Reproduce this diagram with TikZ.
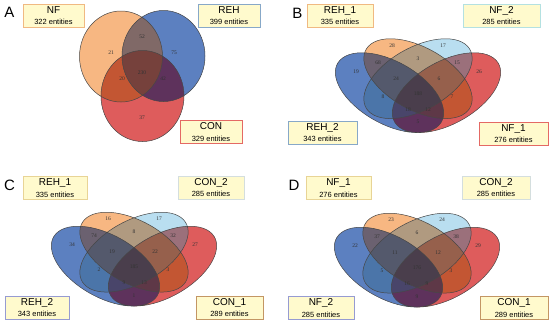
\documentclass[tikz,border=0pt]{standalone}
\usepackage{fontspec}
\setmainfont{Liberation Sans}
\newfontfamily\numfont{Liberation Serif}
\usepackage{tikz}
\usetikzlibrary{positioning}
\definecolor{vorange}{RGB}{242,142,59}
\definecolor{vblue}{RGB}{0,56,156}
\definecolor{vcyan}{RGB}{145,203,231}
\definecolor{vred}{RGB}{203,0,0}
\definecolor{boxfill}{RGB}{255,250,205}
\definecolor{edgeorange}{RGB}{240,185,130}
\definecolor{edgetan}{RGB}{232,212,150}
\definecolor{edgecyan}{RGB}{180,225,225}
\definecolor{edgegrey}{RGB}{212,222,222}
\definecolor{edgeblue}{RGB}{135,168,200}
\definecolor{edgepurple}{RGB}{150,155,210}
\definecolor{edgered}{RGB}{228,105,100}
\definecolor{edgebrown}{RGB}{195,150,100}
\tikzset{
  setfill/.style  = {fill opacity=0.4},
  setline/.style  = {draw=black!72, line width=0.5pt},
  darken/.style   = {fill=black, fill opacity=0.14},
  setbox/.style   = {fill=boxfill, line width=0.9pt, minimum height=23pt, inner sep=0pt, align=center},
  panelid/.style  = {font=\fontsize{15}{15}\selectfont, inner sep=0pt},
  num/.style      = {font=\numfont\fontsize{5.5}{5.5}\selectfont, text=black!80, inner sep=0pt},
}
\newcommand{\setname}[2]{{\fontsize{10}{10}\selectfont #1}\\[-0.5pt]{\fontsize{7.5}{8}\selectfont #2}}
% the four ellipses, in panel units
\newcommand{\vennOL}{{[rotate around={-45:(-0.15,0.006)}] (-0.15,0.006) ellipse (0.35 and 0.2)}}
\newcommand{\vennIL}{{[rotate around={-45:(0,0.106)}] (0,0.106) ellipse (0.35 and 0.2)}}
\newcommand{\vennIR}{{[rotate around={45:(0,0.106)}] (0,0.106) ellipse (0.35 and 0.2)}}
\newcommand{\vennOR}{{[rotate around={45:(0.15,0.006)}] (0.15,0.006) ellipse (0.35 and 0.2)}}
% circles of panel A
\newcommand{\circNF}{(121,56.5) ellipse (41.5 and 45.5)}
\newcommand{\circREH}{(163.5,56) ellipse (41.5 and 45.5)}
\newcommand{\circCON}{(142.5,96) ellipse (41.5 and 45.5)}
% four ellipses round a panel centre (#1,#2)
\newcommand{\fourell}[2]{%
  \begin{scope}[shift={(#1,#2)}, x=1pt, y=1pt, xscale=190, yscale=140]
    % two passes, forth and back
    \fill[setfill, vblue] \vennOL;
    \fill[setfill, vorange] \vennIL;
    \fill[setfill, vcyan] \vennIR;
    \fill[setfill, vred] \vennOR;
    \fill[setfill, vred] \vennOR;
    \fill[setfill, vcyan] \vennIR;
    \fill[setfill, vorange] \vennIL;
    \fill[setfill, vblue] \vennOL;
    % overlaps go darker
    \begin{scope} \clip \vennIL; \fill[darken] \vennOL; \end{scope}
    \begin{scope} \clip \vennIR; \fill[darken] \vennOL \vennIL; \end{scope}
    \begin{scope} \clip \vennOR; \fill[darken] \vennOL \vennIL \vennIR; \end{scope}
    \draw[setline] \vennOR \vennOL \vennIL \vennIR;
  \end{scope}}

\begin{document}
\begin{tikzpicture}[x=1pt,y=-1pt]
  \useasboundingbox (0,0) rectangle (550,325);

  % panel A
  \node[panelid] (idA) at (9.5,12.5) {A};
  \fill[setfill, vorange] \circNF;
  \fill[setfill, vblue] \circREH;
  \fill[setfill, vred] \circCON;
  \fill[setfill, vred] \circCON;
  \fill[setfill, vblue] \circREH;
  \fill[setfill, vorange] \circNF;
  \begin{scope} \clip \circREH; \fill[darken] \circNF; \end{scope}
  \begin{scope} \clip \circCON; \fill[darken] \circNF \circREH; \end{scope}
  \draw[setline] \circNF \circREH \circCON;
  \foreach \x/\y/\n [count=\i] in {111/53/21, 142/37/52, 174/53/75, 142/73/230,
      122/79/20, 163/79/42, 142/118/37} {
    \node[num] (A\i) at (\x,\y) {\n};
  }
  \node[setbox, draw=edgeorange, minimum width=61pt] (nfA) at (53.5,15.5) {\setname{NF}{322 entities}};
  \node[setbox, draw=edgeblue, minimum width=62pt] (rehA) at (229,15.5) {\setname{REH}{399 entities}};
  \node[setbox, draw=edgered, minimum width=62pt] (conA) at (211,132) {\setname{CON}{329 entities}};

  % panel B
  \node[panelid] (idB) at (297.5,13) {B};
  \fourell{418}{93.5}
  \begin{scope}[shift={(418,93.5)}]
    \foreach \x/\y/\n [count=\i] in {-62/-22/19, -26/-48/28, 25/-48/17, 61/-22/26,
        -40/-31/68, 0/-35/3, 39/-31/15, -22/-15/24, 21/-15/6, 0/0/188,
        -35/3/8, 34/3/7, -10/16/18, 10/16/12, 0/28.5/5} {
      \node[num] (B\i) at (\x,\y) {\n};
    }
  \end{scope}
  \node[setbox, draw=edgeorange, minimum width=66pt] (reh1B) at (340,15.5) {\setname{REH\_1}{335 entities}};
  \node[setbox, draw=edgecyan, minimum width=77pt] (nf2B) at (501.5,15.5) {\setname{NF\_2}{285 entities}};
  \node[setbox, draw=edgeblue, minimum width=69pt] (reh2B) at (322.5,132.5) {\setname{REH\_2}{343 entities}};
  \node[setbox, draw=edgered, minimum width=69pt] (nf1B) at (513.5,133.5) {\setname{NF\_1}{276 entities}};

  % panel C
  \node[panelid] (idC) at (9.5,185.5) {C};
  \fourell{134}{267}
  \begin{scope}[shift={(134,267)}]
    \foreach \x/\y/\n [count=\i] in {-62/-22/34, -26/-48/16, 25/-48/17, 61/-22/27,
        -40/-31/74, 0/-35/8, 39/-31/32, -22/-15/19, 21/-15/22, 0/0/185,
        -35/3/2, 34/3/3, -10/16/9, 10/16/13, 0/28.5/1} {
      \node[num] (C\i) at (\x,\y) {\n};
    }
  \end{scope}
  \node[setbox, draw=edgetan, minimum width=64pt] (reh1C) at (55,188) {\setname{REH\_1}{335 entities}};
  \node[setbox, draw=edgegrey, minimum width=66pt] (con2C) at (211,187.5) {\setname{CON\_2}{285 entities}};
  \node[setbox, draw=edgepurple, minimum width=64pt] (reh2C) at (37,307.5) {\setname{REH\_2}{343 entities}};
  \node[setbox, draw=edgebrown, minimum width=67pt] (con1C) at (229.5,307.5) {\setname{CON\_1}{289 entities}};

  % panel D
  \node[panelid] (idD) at (294,185.5) {D};
  \fourell{417}{268}
  \begin{scope}[shift={(417,268)}]
    \foreach \x/\y/\n [count=\i] in {-62/-22/22, -26/-48/23, 25/-48/24, 61/-22/29,
        -40/-31/37, 0/-35/6, 39/-31/38, -22/-15/11, 21/-15/12, 0/0/176,
        -35/3/5, 34/3/3, -10/16/16, 10/16/9, 0/28.5/9} {
      \node[num] (D\i) at (\x,\y) {\n};
    }
  \end{scope}
  \node[setbox, draw=edgetan, minimum width=65pt] (nf1D) at (338.5,188) {\setname{NF\_1}{276 entities}};
  \node[setbox, draw=edgegrey, minimum width=68pt] (con2D) at (496,187.5) {\setname{CON\_2}{285 entities}};
  \node[setbox, draw=edgepurple, minimum width=66pt] (nf2D) at (321,308) {\setname{NF\_2}{285 entities}};
  \node[setbox, draw=edgebrown, minimum width=68pt] (con1D) at (514,308) {\setname{CON\_1}{289 entities}};
\end{tikzpicture}
\end{document}
